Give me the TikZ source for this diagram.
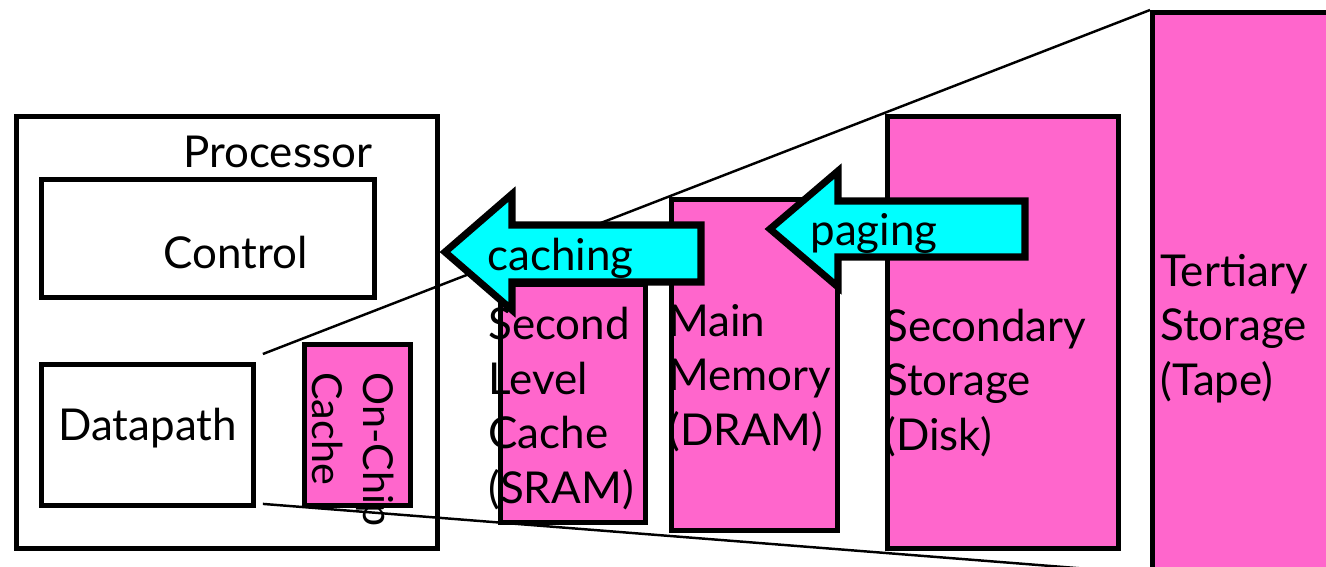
\documentclass[tikz,border=0pt]{standalone}
\usepackage{fontspec}
\setmainfont{Lato}
\usetikzlibrary{positioning,backgrounds}
\definecolor{hotpink}{HTML}{FF66CC}
\definecolor{aqua}{HTML}{00FFFF}

\begin{document}
\begin{tikzpicture}[x=0.02cm, y=-0.02cm,
  every node/.style={font=\fontsize{25}{31}\selectfont},
  blk/.style={rectangle, draw, line width=2.8pt, anchor=north west, inner sep=0pt},
  lvl/.style={blk, fill=hotpink},
  lbl/.style={anchor=base west, inner sep=0pt, align=left},
  flow/.style={draw, line width=4pt, fill=aqua, line join=miter},
  zoomline/.style={line width=1.4pt}]
  \useasboundingbox (0,0) rectangle (1326,566);
  % processor and its parts
  \node[blk, minimum width=8.42cm, minimum height=8.64cm] (proc) at (14,114) {};
  \node[blk, minimum width=6.66cm, minimum height=2.36cm] (ctrl) at (39,177) {};
  \node[blk, minimum width=4.24cm, minimum height=2.82cm] (dpath) at (39,362) {};
  \node[lvl, minimum width=2.12cm, minimum height=3.22cm] (chip) at (302,342) {};
  % memory levels
  \node[lvl, minimum width=2.9cm, minimum height=4.76cm] (sram) at (498,282) {};
  \node[lvl, minimum width=3.32cm, minimum height=6.62cm] (dram) at (669,197) {};
  \node[lvl, minimum width=4.62cm, minimum height=8.64cm] (disk) at (885,114) {};
  \node[lvl, minimum width=5cm, minimum height=11.18cm] (tape) at (1150,10) {};
  % labels (base = last line)
  \node[lbl] (proctxt) at (183,167) {Processor};
  \node[lbl] (ctrltxt) at (163,268) {Control};
  \node[lbl] (dpathtxt) at (58,440) {Datapath};
  \node[lbl, anchor=north west, rotate=-90, font=\fontsize{23.5}{29}\selectfont]
    (chiptxt) at (394,372) {On-Chip\\Cache};
  \node[lbl] (sramtxt) at (488,503) {Second\\Level\\Cache\\(SRAM)};
  \node[lbl] (dramtxt) at (668,445) {Main\\Memory\\(DRAM)};
  \node[lbl] (disktxt) at (884,450) {Secondary\\Storage\\(Disk)};
  \node[lbl] (tapetxt) at (1160,395) {Tertiary\\Storage\\(Tape)};
  % perspective lines
  \begin{scope}[on background layer]
    \draw[zoomline] ([xshift=0.14cm,yshift=0.16cm]dpath.north east) -- (tape.north west);
    \draw[zoomline] ([xshift=0.14cm,yshift=0.08cm]dpath.south east) -- (tape.south west);
  \end{scope}
  % transfer arrows
  \draw[flow] (445,252) -- (512,194) -- (512,225) -- (701,225) -- (701,282)
    -- (512,282) -- (512,310) -- cycle;
  \node[lbl] (cachetxt) at (487,270) {caching};
  \draw[flow] (770,229) -- (838,171) -- (838,201) -- (1025,201) -- (1025,257)
    -- (838,257) -- (838,287) -- cycle;
  \node[lbl] (pagetxt) at (810,245) {paging};
\end{tikzpicture}
\end{document}
